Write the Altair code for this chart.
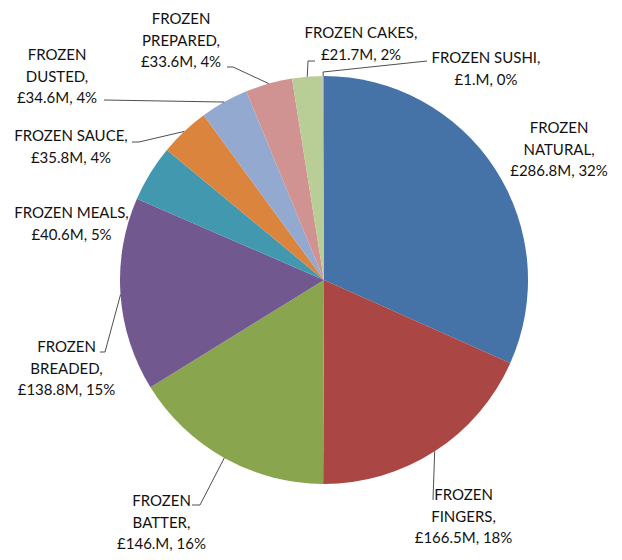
import math
import altair as alt
import pandas as pd

# ---- data ----
categories = ["FROZEN NATURAL", "FROZEN FINGERS", "FROZEN BATTER", "FROZEN BREADED",
              "FROZEN MEALS", "FROZEN SAUCE", "FROZEN DUSTED", "FROZEN PREPARED",
              "FROZEN CAKES", "FROZEN SUSHI"]
values = [286.8, 166.5, 146.0, 138.8, 40.6, 35.8, 34.6, 33.6, 21.7, 1.0]
percents = [32, 18, 16, 15, 5, 4, 4, 4, 2, 0]
colors = ["#4572A7", "#AA4643", "#89A54E", "#71588F", "#4198AF",
          "#DB843D", "#93A9CF", "#D19392", "#B9CD96", "#A99BBD"]

# ---- layout (page pixel coordinates) ----
W, H = 606, 544
CX, CY, R = 324, 280, 204
LINE_H = 21.5
FONT = "Lato"
FONT_SIZE = 15

# label block: centre x, first-line centre y, name split over two lines?
label_layout = {
    "FROZEN NATURAL": (559, 128, True),
    "FROZEN FINGERS": (463.5, 495, True),
    "FROZEN BATTER": (161.5, 501, True),
    "FROZEN BREADED": (66.5, 347, True),
    "FROZEN MEALS": (71.5, 213, False),
    "FROZEN SAUCE": (71, 136, False),
    "FROZEN DUSTED": (57, 55, True),
    "FROZEN PREPARED": (181, 19, True),
    "FROZEN CAKES": (361, 33, False),
    "FROZEN SUSHI": (486, 58, False),
}
# leader points from the label side; last point is computed on the slice edge
leader_layout = {
    "FROZEN FINGERS": [(433, 500)],
    "FROZEN BATTER": [(192, 505), (200, 505)],
    "FROZEN BREADED": [(100, 352), (105, 352)],
    "FROZEN SAUCE": [(132, 142), (139, 142)],
    "FROZEN DUSTED": [(104, 100)],
    "FROZEN PREPARED": [(227, 67), (233, 67)],
    "FROZEN CAKES": [(315, 61), (308, 61)],
    "FROZEN SUSHI": [(427, 61), (323, 72)],
}


def fmt_value(v):
    s = f"{v:.1f}"
    if s.endswith("0"):
        s = s[:-1]
    return f"£{s}M"


total = sum(values)

# pie
pie_df = pd.DataFrame({"category": categories, "value": values,
                       "idx": list(range(len(categories)))})

# label lines
text_rows = []
for name, v, p in zip(categories, values, percents):
    cx, y0, split = label_layout[name]
    if split:
        first, rest = name.split(" ", 1)
        lines = [first, rest + ","]
    else:
        lines = [name + ","]
    lines.append(f"{fmt_value(v)}, {p}%")
    for i, ln in enumerate(lines):
        text_rows.append({"x": cx, "y": y0 + i * LINE_H, "text": ln})
text_df = pd.DataFrame(text_rows)

# leader lines
lead_rows = []
cum = 0.0
for name, v in zip(categories, values):
    mid = (cum + v / 2) / total * 2 * math.pi
    cum += v
    if name not in leader_layout:
        continue
    pts = list(leader_layout[name])
    pts.append((CX + R * math.sin(mid), CY - R * math.cos(mid)))
    for s, (px, py) in enumerate(pts):
        lead_rows.append({"leader": name, "seq": s, "x": px, "y": py})
lead_df = pd.DataFrame(lead_rows)

xs = alt.Scale(domain=[8, 8 + W], nice=False, zero=False)
ys = alt.Scale(domain=[8, 8 + H], nice=False, zero=False, reverse=True)

pie = alt.Chart(pie_df).mark_arc(radius=R).encode(
    theta=alt.Theta("value:Q", stack=True),
    order=alt.Order("idx:Q"),
    color=alt.Color("category:N", scale=alt.Scale(domain=categories, range=colors),
                    legend=None),
    x=alt.value(CX - 8),
    y=alt.value(CY - 8),
)

leaders = alt.Chart(lead_df).mark_line(color="#3a3a3a", strokeWidth=0.9).encode(
    x=alt.X("x:Q", scale=xs, axis=None),
    y=alt.Y("y:Q", scale=ys, axis=None),
    detail="leader:N",
    order="seq:Q",
)

labels = alt.Chart(text_df).mark_text(
    font=FONT, fontSize=FONT_SIZE, color="#111111", align="center", baseline="middle"
).encode(
    x=alt.X("x:Q", scale=xs, axis=None),
    y=alt.Y("y:Q", scale=ys, axis=None),
    text="text:N",
)

chart = alt.layer(pie, leaders, labels).properties(
    width=W, height=H, padding=0, autosize="none", background="white"
).configure_view(stroke=None)

chart.save("out.html", embed_options={"renderer": "svg", "actions": False})
